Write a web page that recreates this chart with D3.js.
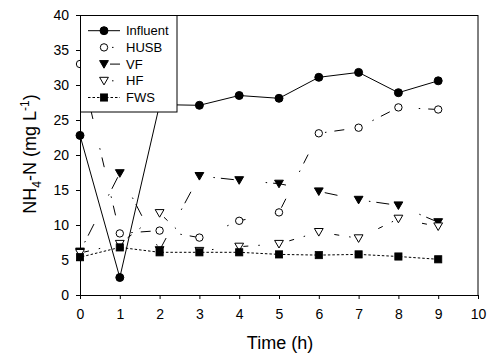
<!DOCTYPE html>
<html><head><meta charset="utf-8">
<script src="https://cdn.jsdelivr.net/npm/d3@7"></script>
<style>body{margin:0;background:#fff} svg{display:block} text{font-family:"Liberation Sans",Arial,sans-serif}</style>
</head><body>
<svg id="c" width="487" height="359"></svg>
<script>
// ---- data ----
const time = [0, 1, 2, 3, 4, 5, 6, 7, 8, 9];
const influent = [22.8, 2.5, 27.2, 27.1, 28.5, 28.1, 31.1, 31.8, 28.9, 30.6];
const husb = [33.0, 8.8, 9.2, 8.2, 10.6, 11.8, 23.1, 23.9, 26.8, 26.5];
const vf = [6.2, 17.4, 6.4, 17.0, 16.4, 15.9, 14.8, 13.6, 12.8, 10.4];
const hf = [6.0, 7.3, 11.7, 6.3, 6.9, 7.3, 9.0, 8.1, 10.9, 9.8];
const fws = [5.4, 6.8, 6.1, 6.1, 6.1, 5.8, 5.7, 5.8, 5.5, 5.1];
const seriesNames = ["Influent", "HUSB", "VF", "HF", "FWS"];
const xTickValues = [0, 1, 2, 3, 4, 5, 6, 7, 8, 9, 10];
const yTickValues = [0, 5, 10, 15, 20, 25, 30, 35, 40];

const seriesData = [influent, husb, vf, hf, fws];

// ---- styles ----
const styles = {
  Influent: {marker: "circle", fill: "#000", dash: null, legendDash: null},
  HUSB: {marker: "circle", fill: "#fff", dash: "10,8,1.5,30", legendDash: "0,24,1.5,20"},
  VF: {marker: "tri", fill: "#000", dash: "13,6,1.5,32", legendDash: "0,22,10,20"},
  HF: {marker: "tri", fill: "#fff", dash: "1.5,10,5,30", legendDash: "0,24,1.5,20"},
  FWS: {marker: "square", fill: "#000", dash: "2.5,2", legendDash: "2.5,2"}
};

const svg = d3.select("#c");
const L = 80, R = 478, T = 15, B = 295;
const x = d3.scaleLinear().domain([0, 10]).range([L, R]);
const y = d3.scaleLinear().domain([0, 40]).range([B, T]);

// axes
const gx = svg.append("g").attr("transform", `translate(0,${B})`)
  .call(d3.axisBottom(x).tickValues(xTickValues).tickSize(4).tickPadding(10).tickSizeOuter(0).tickFormat(d3.format("d")));
const gy = svg.append("g").attr("transform", `translate(${L},0)`)
  .call(d3.axisLeft(y).tickValues(yTickValues).tickSize(4).tickPadding(7).tickSizeOuter(0).tickFormat(d3.format("d")));
[gx, gy].forEach(g => {
  g.attr("font-family", null).attr("font-size", null);
  g.selectAll("text").style("font-size", "14px").attr("fill", "#000");
  g.selectAll("line").attr("stroke", "#000");
  g.select(".domain").attr("stroke", "#000");
});

// frame
svg.append("rect").attr("x", L + 0.5).attr("y", T + 0.5)
  .attr("width", R - L - 0.5).attr("height", B - T)
  .attr("fill", "none").attr("stroke", "#000").attr("stroke-width", 1);

// marker drawing
function drawMarker(g, type, fill, cx, cy) {
  if (type === "circle") {
    g.append("circle").attr("cx", cx).attr("cy", cy).attr("r", fill === "#000" ? 4 : 3.7)
      .attr("fill", fill).attr("stroke", "#000").attr("stroke-width", 1);
  } else if (type === "tri") {
    const w = 4.4, h1 = 3.5, h2 = 4.1;
    g.append("path").attr("d", `M${cx - w},${cy - h1}L${cx + w},${cy - h1}L${cx},${cy + h2}Z`)
      .attr("fill", fill).attr("stroke", "#000").attr("stroke-width", 1);
  } else {
    const s = 3.6;
    g.append("rect").attr("x", cx - s).attr("y", cy - s).attr("width", 2 * s).attr("height", 2 * s)
      .attr("fill", fill).attr("stroke", "#000").attr("stroke-width", 0.8);
  }
}

const line = d3.line().x(d => x(d[0])).y(d => y(d[1]));
const plot = svg.append("g");
seriesNames.forEach((name, i) => {
  const st = styles[name];
  const pts = time.map((t, j) => [t, seriesData[i][j]]);
  // drawn from the last point back to the first
  plot.append("path").datum(pts.slice().reverse()).attr("d", line)
    .attr("fill", "none").attr("stroke", "#000").attr("stroke-width", 1)
    .attr("stroke-dasharray", st.dash);
  const mg = plot.append("g");
  pts.forEach(p => drawMarker(mg, st.marker, st.fill, x(p[0]), y(p[1])));
});

// legend
const lg = svg.append("g");
lg.append("rect").attr("x", L + 0.5).attr("y", T + 0.5).attr("width", 96.5).attr("height", 96.5)
  .attr("fill", "#fff").attr("stroke", "#000").attr("stroke-width", 1);
const rowY = [30.7, 47.4, 64.1, 80.8, 97.5];
seriesNames.forEach((name, i) => {
  const st = styles[name];
  const yy = rowY[i];
  lg.append("line").attr("x1", 88).attr("x2", 120).attr("y1", yy).attr("y2", yy)
    .attr("stroke", "#000").attr("stroke-width", 1).attr("stroke-dasharray", st.legendDash);
  drawMarker(lg, st.marker, st.fill, 104, yy);
  lg.append("text").attr("x", 126).attr("y", yy + 4.6).style("font-size", "13px").text(name);
});

// axis titles
svg.append("text").attr("x", (L + R) / 2 + 1).attr("y", 349).attr("text-anchor", "middle")
  .style("font-size", "18px").text("Time (h)");
const yt = svg.append("text").attr("transform", "translate(36,154) rotate(-90)")
  .attr("text-anchor", "middle").style("font-size", "18px");
yt.append("tspan").text("NH");
yt.append("tspan").attr("dy", 5).style("font-size", "12px").text("4");
yt.append("tspan").attr("dy", -5).text("-N (mg L");
yt.append("tspan").attr("dy", -7).style("font-size", "12px").text("-1");
yt.append("tspan").attr("dy", 7).text(")");
</script>
</body></html>
